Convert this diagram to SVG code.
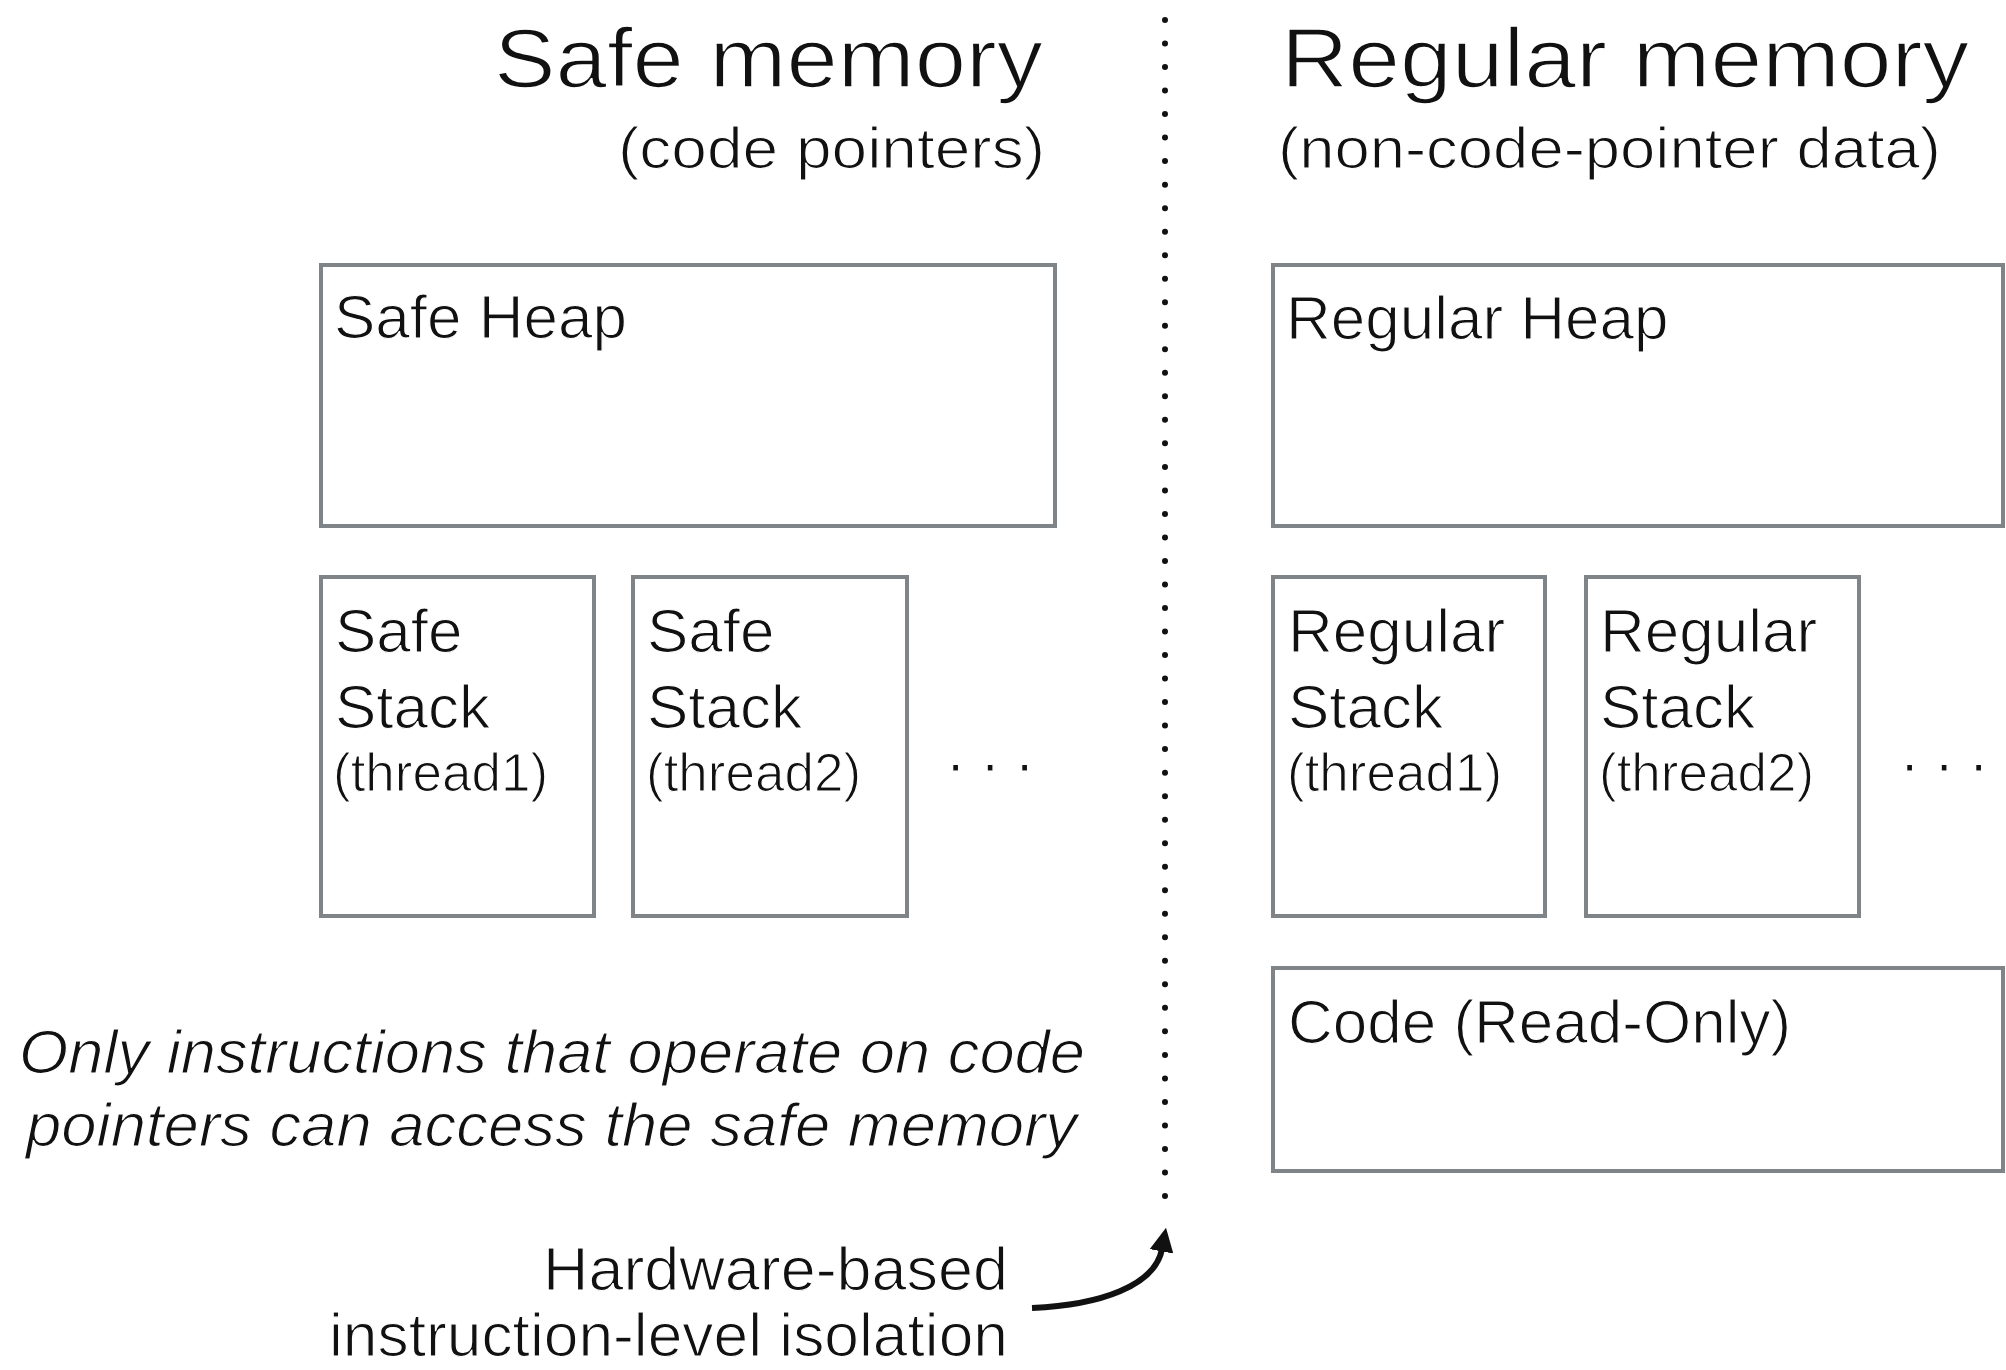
<svg xmlns="http://www.w3.org/2000/svg" width="2006" height="1370" viewBox="0 0 2006 1370">
<style>
text{font-family:"Liberation Sans",Arial,sans-serif;fill:#111;stroke:#fff;stroke-width:1.2px}
.box{fill:#fff;stroke:#7f8488;stroke-width:4}
.title{font-size:84px;stroke-width:1.6px}
.sub{font-size:58px}
.lbl{font-size:62px}
.thr{font-size:53px}
.it{font-size:62px;font-style:italic}
.conn{fill:none;stroke:#111;stroke-width:6}
.div{fill:none;stroke:#111;stroke-width:6;stroke-linecap:round;stroke-dasharray:0 23.52}
</style>
<defs>
<marker id="ah" viewBox="0 0 10 10" refX="1" refY="5" markerWidth="4" markerHeight="4" orient="auto" markerUnits="strokeWidth">
<path d="M0,0 L10,5 L0,10 z" fill="#111"/>
</marker>
</defs>
<rect width="2006" height="1370" fill="#fff"/>

<g id="titles">
<text class="title" x="494" y="87" textLength="549" lengthAdjust="spacingAndGlyphs">Safe memory</text>
<text class="sub" x="618" y="168" textLength="427" lengthAdjust="spacingAndGlyphs">(code pointers)</text>
<text class="title" x="1281" y="87" textLength="688" lengthAdjust="spacingAndGlyphs">Regular memory</text>
<text class="sub" x="1278" y="168" textLength="663" lengthAdjust="spacingAndGlyphs">(non-code-pointer data)</text>
</g>

<g id="safe-heap">
<rect class="box" x="321" y="265" width="734" height="261"/>
<text class="lbl" x="334" y="338">Safe Heap</text>
</g>

<g id="safe-stack-1">
<rect class="box" x="321" y="577" width="273" height="339"/>
<text class="lbl" x="335" y="652">Safe</text>
<text class="lbl" x="335" y="728">Stack</text>
<text class="thr" x="333" y="791">(thread1)</text>
</g>

<g id="safe-stack-2">
<rect class="box" x="633" y="577" width="274" height="339"/>
<text class="lbl" x="647" y="652">Safe</text>
<text class="lbl" x="647" y="728">Stack</text>
<text class="thr" x="646" y="791">(thread2)</text>
</g>

<g id="safe-more">
<text class="lbl" x="947" y="771">. . .</text>
</g>

<g id="regular-heap">
<rect class="box" x="1273" y="265" width="730" height="261"/>
<text class="lbl" x="1286" y="339">Regular Heap</text>
</g>

<g id="regular-stack-1">
<rect class="box" x="1273" y="577" width="272" height="339"/>
<text class="lbl" x="1288" y="652">Regular</text>
<text class="lbl" x="1288" y="728">Stack</text>
<text class="thr" x="1287" y="791">(thread1)</text>
</g>

<g id="regular-stack-2">
<rect class="box" x="1586" y="577" width="273" height="339"/>
<text class="lbl" x="1600" y="652">Regular</text>
<text class="lbl" x="1600" y="728">Stack</text>
<text class="thr" x="1599" y="791">(thread2)</text>
</g>

<g id="regular-more">
<text class="lbl" x="1901" y="771">. . .</text>
</g>

<g id="code">
<rect class="box" x="1273" y="968" width="730" height="203"/>
<text class="lbl" x="1288" y="1043">Code (Read-Only)</text>
</g>

<g id="note">
<text class="it" x="19" y="1073" textLength="1066" lengthAdjust="spacingAndGlyphs">Only instructions that operate on code</text>
<text class="it" x="26" y="1146" textLength="1051" lengthAdjust="spacingAndGlyphs">pointers can access the safe memory</text>
</g>

<g id="isolation-label">
<text class="lbl" x="543" y="1290" textLength="465" lengthAdjust="spacingAndGlyphs">Hardware-based</text>
<text class="lbl" x="329" y="1356" textLength="679" lengthAdjust="spacingAndGlyphs">instruction-level isolation</text>
</g>

<g id="connectors">
<line class="div" x1="1165" y1="20" x2="1165" y2="1199"/>
<path class="conn" d="M1032,1308 C1100,1305 1155,1286 1162,1249" marker-end="url(#ah)"/>
</g>
</svg>
